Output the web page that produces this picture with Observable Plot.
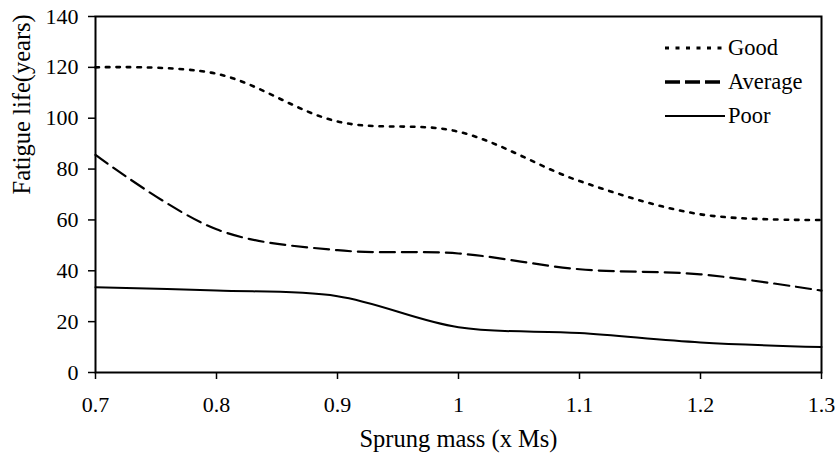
<!DOCTYPE html>
<html><head><meta charset="utf-8">
<script src="https://cdn.jsdelivr.net/npm/d3@7"></script>
<script src="https://cdn.jsdelivr.net/npm/@observablehq/plot@0.6"></script>
<style>
body{margin:0;background:#fff;}
#wrap{position:relative;width:836px;height:462px;}
#wrap svg, #wrap svg text{font-family:"Liberation Serif","DejaVu Serif",serif !important;}
#wrap svg.legend{position:absolute;left:0;top:0;}
</style>
</head><body>
<div id="wrap"></div>
<script>
const sprungMass = [0.7, 0.8, 0.9, 1.0, 1.1, 1.2, 1.3];
const good    = [120, 117.5, 98.7, 94.7, 75.3, 62.2, 60];
const average = [85.6, 56.3, 48.1, 46.8, 40.6, 38.6, 32.2];
const poor    = [33.5, 32.2, 30, 17.8, 15.5, 11.8, 10];
const seriesNames = ["Good", "Average", "Poor"];
const xTicks = [0.7, 0.8, 0.9, 1.0, 1.1, 1.2, 1.3];
const yTicks = [0, 20, 40, 60, 80, 100, 120, 140];
const xTitle = "Sprung mass (x Ms)";
const yTitle = "Fatigue life(years)";

const styles = {
  Good:    {dash: "3.5,7", width: 2.6, legDash: "4,6.5", legWidth: 3},
  Average: {dash: "15,7", width: 2.2, legDash: "15,5", legWidth: 3.5},
  Poor:    {dash: null, width: 2, legDash: null, legWidth: 2}
};
const valuesBy = {Good: good, Average: average, Poor: poor};
const rows = seriesNames.flatMap(s => sprungMass.map((m, i) => ({series: s, x: m, y: valuesBy[s][i]})));

const font = "Liberation Serif";
const fmt = d => String(+d.toFixed(1));
const chart = Plot.plot({
  width: 836, height: 462,
  marginLeft: 95, marginRight: 15, marginTop: 16, marginBottom: 90,
  style: {fontFamily: font, fontSize: "22px", color: "#000", background: "#fff", overflow: "visible"},
  x: {domain: [0.7, 1.3]},
  y: {domain: [0, 140]},
  marks: [
    Plot.axisX({ticks: xTicks, tickFormat: fmt, tickSize: 7, tickPadding: 17, label: null, fontSize: 22, strokeWidth: 1.5}),
    Plot.axisY({ticks: yTicks, tickSize: 7, tickPadding: 10, label: null, fontSize: 22, strokeWidth: 1.5}),
    Plot.frame({stroke: "#000", strokeWidth: 2}),
    ...seriesNames.map(s => Plot.line(rows.filter(r => r.series === s), {
      x: "x", y: "y", curve: "catmull-rom", stroke: "#000",
      strokeWidth: styles[s].width, strokeDasharray: styles[s].dash
    })),
    Plot.text([xTitle], {frameAnchor: "bottom", dy: 74, fontSize: 24.5, text: d => d}),
    Plot.text([yTitle], {frameAnchor: "left", dx: -73, rotate: -90, fontSize: 24.5, text: d => d})
  ]
});
const wrap = document.getElementById("wrap");
wrap.appendChild(chart);

// legend (inside plot, top-right)
const legLayout = {x1: 665, x2: 725, textX: 728, y0: 48, step: 34};
const leg = d3.select(wrap).append("svg").attr("class", "legend").attr("width", 836).attr("height", 462);
seriesNames.forEach((s, i) => {
  const y = legLayout.y0 + i * legLayout.step;
  leg.append("line").attr("x1", legLayout.x1).attr("x2", legLayout.x2).attr("y1", y).attr("y2", y)
    .attr("stroke", "#000").attr("stroke-width", styles[s].legWidth)
    .attr("stroke-dasharray", styles[s].legDash);
  leg.append("text").attr("x", legLayout.textX).attr("y", y).attr("dy", "0.33em")
    .attr("font-size", 22.5).attr("fill", "#000").text(s);
});
</script>
</body></html>
